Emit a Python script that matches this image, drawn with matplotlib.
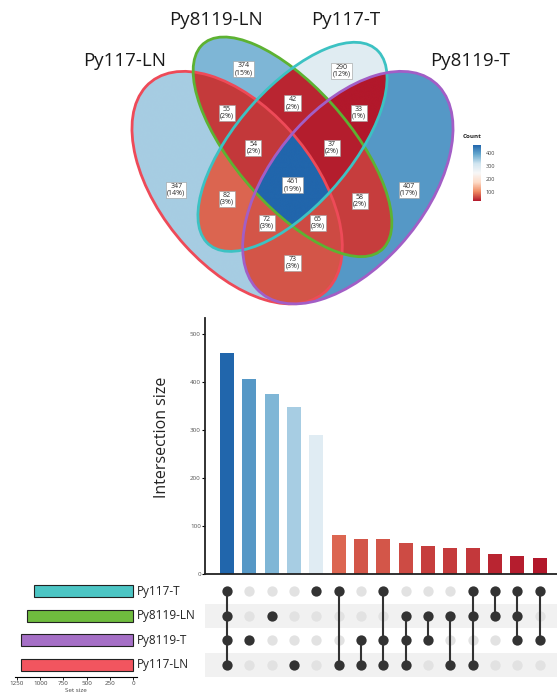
import matplotlib
matplotlib.use("Agg")
import matplotlib.pyplot as plt
import numpy as np
from matplotlib.colors import LinearSegmentedColormap, Normalize
from matplotlib.patches import Ellipse

plt.rcParams['font.family'] = ['Open Sans', 'DejaVu Sans']

# sets, in venn order (outer left, inner left, inner right, outer right)
set_names = ["Py117-LN", "Py8119-LN", "Py117-T", "Py8119-T"]
set_colors = ["#EE4A58", "#5DB232", "#3CC2C3", "#A25EC6"]
bar_colors = ["#F2555F", "#6FBC3E", "#4CC5C4", "#A56FC6"]

# exclusive intersections, sorted by size
combos = [
    ("Py117-LN", "Py8119-LN", "Py117-T", "Py8119-T"),
    ("Py8119-T",),
    ("Py8119-LN",),
    ("Py117-LN",),
    ("Py117-T",),
    ("Py117-LN", "Py117-T"),
    ("Py117-LN", "Py8119-T"),
    ("Py117-LN", "Py117-T", "Py8119-T"),
    ("Py117-LN", "Py8119-LN", "Py8119-T"),
    ("Py8119-LN", "Py8119-T"),
    ("Py117-LN", "Py8119-LN"),
    ("Py117-LN", "Py8119-LN", "Py117-T"),
    ("Py8119-LN", "Py117-T"),
    ("Py8119-LN", "Py117-T", "Py8119-T"),
    ("Py117-T", "Py8119-T"),
]
counts = [461, 407, 374, 347, 290, 82, 73, 72, 65, 58, 55, 54, 42, 37, 33]

# matrix rows, top to bottom
matrix_rows = ["Py117-T", "Py8119-LN", "Py8119-T", "Py117-LN"]

# ellipse shapes: centre x, centre y, semi-axis a, semi-axis b, angle
ellipses = [(0.35, 0.47, 0.35, 0.20, 135),
            (0.50, 0.57, 0.35, 0.15, 135),
            (0.50, 0.57, 0.33, 0.15, 45),
            (0.65, 0.47, 0.35, 0.20, 45)]

# where each region's count label sits (same order as combos)
region_label_xy = [(0.500, 0.476), (0.815, 0.464), (0.367, 0.760), (0.185, 0.464),
                   (0.633, 0.756), (0.322, 0.443), (0.500, 0.285), (0.431, 0.383),
                   (0.569, 0.383), (0.682, 0.438), (0.322, 0.653), (0.394, 0.567),
                   (0.500, 0.677), (0.606, 0.567), (0.680, 0.653)]

W, H = 557, 698
fig = plt.figure(figsize=(W / 100, H / 100), dpi=100)
fig.patch.set_facecolor("white")


def px_rect(left, top, width, height):
    return [left / W, 1 - (top + height) / H, width / W, height / H]


cmap = LinearSegmentedColormap.from_list(
    "count", ["#B2182B", "#EF8A62", "#FDDBC7", "#F7F7F7", "#D1E5F0", "#67A9CF", "#2166AC"])
norm = Normalize(min(counts), max(counts))
total = sum(counts)

# ---- venn diagram ----
ylo, yhi = 0.17, 0.93
ax_v = fig.add_axes(px_rect(108, 0, 369, 310))
ax_v.set_xlim(0, 1)
ax_v.set_ylim(ylo, yhi)
ax_v.axis("off")

xs = np.linspace(0, 1, 1400)
ys = np.linspace(ylo, yhi, 1200)
X, Y = np.meshgrid(xs, ys)
code = np.zeros(X.shape, dtype=int)
for k, (cx, cy, a, b, ang) in enumerate(ellipses):
    t = np.deg2rad(ang)
    u = (X - cx) * np.cos(t) + (Y - cy) * np.sin(t)
    v = -(X - cx) * np.sin(t) + (Y - cy) * np.cos(t)
    code |= (((u / a) ** 2 + (v / b) ** 2) <= 1).astype(int) << k

rgba = np.zeros(X.shape + (4,))
for combo, n, (lx, ly) in zip(combos, counts, region_label_xy):
    c = sum(1 << set_names.index(s) for s in combo)
    rgba[code == c] = cmap(norm(n))
    pct = int(np.floor(100 * n / total + 0.5))
    ax_v.text(lx, ly, f"{n}\n({pct}%)", ha="center", va="center",
              fontsize=5.0, color="#2a2a2a", linespacing=0.95, zorder=5,
              bbox=dict(boxstyle="square,pad=0.16", fc="white", ec="#9a9a9a", lw=0.4))

ax_v.imshow(rgba, extent=(0, 1, ylo, yhi), origin="lower", aspect="auto", zorder=1)
for (cx, cy, a, b, ang), col in zip(ellipses, set_colors):
    ax_v.add_patch(Ellipse((cx, cy), 2 * a, 2 * b, angle=ang, fill=False, ec=col, lw=2.0, zorder=3))

label_pos = {"Py117-LN": (125, 61), "Py8119-LN": (216, 20), "Py117-T": (346, 20), "Py8119-T": (470, 61)}
for name in set_names:
    lx, ly = label_pos[name]
    fig.text(lx / W, 1 - ly / H, name, ha="center", va="center", fontsize=13.5, color="#1a1a1a")

# colour legend
cax = fig.add_axes(px_rect(473, 145, 8, 56))
cb = fig.colorbar(plt.cm.ScalarMappable(norm=norm, cmap=cmap), cax=cax, ticks=[100, 200, 300, 400])
cb.outline.set_visible(False)
cax.tick_params(labelsize=4, length=2, width=0.5, color="white", pad=1.5, labelcolor="#444444")
fig.text(463 / W, 1 - 137 / H, "Count", fontsize=4.5, fontweight="bold", color="#222222", va="center")

# ---- intersection size bars ----
cols = np.arange(len(counts))
xlim = (-0.98, 14.77)
ax_b = fig.add_axes(px_rect(205, 318, 352, 256))
ax_b.bar(cols, counts, width=0.63, color=[cmap(norm(n)) for n in counts])
ax_b.set_xlim(*xlim)
ax_b.set_ylim(0, 533)
ax_b.set_yticks([0, 100, 200, 300, 400, 500])
ax_b.set_xticks([])
for s in ["top", "right"]:
    ax_b.spines[s].set_visible(False)
for s in ["left", "bottom"]:
    ax_b.spines[s].set_linewidth(1.3)
    ax_b.spines[s].set_color("#222222")
ax_b.tick_params(axis="y", labelsize=4.5, length=2, width=0.8, pad=1, labelcolor="#555555")
ax_b.set_ylabel("Intersection size", fontsize=11.5, color="#222222")
ax_b.yaxis.set_label_coords(-0.10, 0.535)

# ---- membership matrix ----
ax_m = fig.add_axes(px_rect(205, 579, 352, 98))
ax_m.set_xlim(*xlim)
ax_m.set_ylim(3.5, -0.5)
ax_m.axis("off")
for r, name in enumerate(matrix_rows):
    if r % 2 == 1:
        ax_m.axhspan(r - 0.5, r + 0.5, color="#F1F1F1", lw=0, zorder=0)
for i, combo in enumerate(combos):
    active = [r for r, name in enumerate(matrix_rows) if name in combo]
    idle = [r for r in range(len(matrix_rows)) if r not in active]
    ax_m.scatter([i] * len(idle), idle, s=55, color="#E2E2E2", lw=0, zorder=1)
    if len(active) > 1:
        ax_m.plot([i, i], [min(active), max(active)], color="#333333", lw=1.5, zorder=2)
    ax_m.scatter([i] * len(active), active, s=55, color="#333333", lw=0, zorder=3)

# ---- set sizes ----
set_sizes = [sum(n for combo, n in zip(combos, counts) if name in combo) for name in matrix_rows]
ax_s = fig.add_axes(px_rect(15, 579, 122, 98))
ax_s.barh(range(len(matrix_rows)), set_sizes, height=0.47,
          color=[bar_colors[set_names.index(nm)] for nm in matrix_rows], ec="#222222", lw=0.8)
ax_s.set_ylim(3.5, -0.5)
ax_s.set_xlim(1272, -43)
ax_s.set_yticks([])
ax_s.set_xticks([0, 250, 500, 750, 1000, 1250])
for s in ["top", "right", "left"]:
    ax_s.spines[s].set_visible(False)
ax_s.spines["bottom"].set_linewidth(0.8)
ax_s.tick_params(axis="x", labelsize=4.5, length=2, width=0.6, pad=1, labelcolor="#444444")
ax_s.set_xlabel("Set size", fontsize=4.5, color="#444444", labelpad=1)
for r, name in enumerate(matrix_rows):
    ax_s.text(1.0, r, name, transform=ax_s.get_yaxis_transform(), ha="left", va="center",
              fontsize=8.5, color="#222222")

fig.savefig("out.png", dpi=100)
